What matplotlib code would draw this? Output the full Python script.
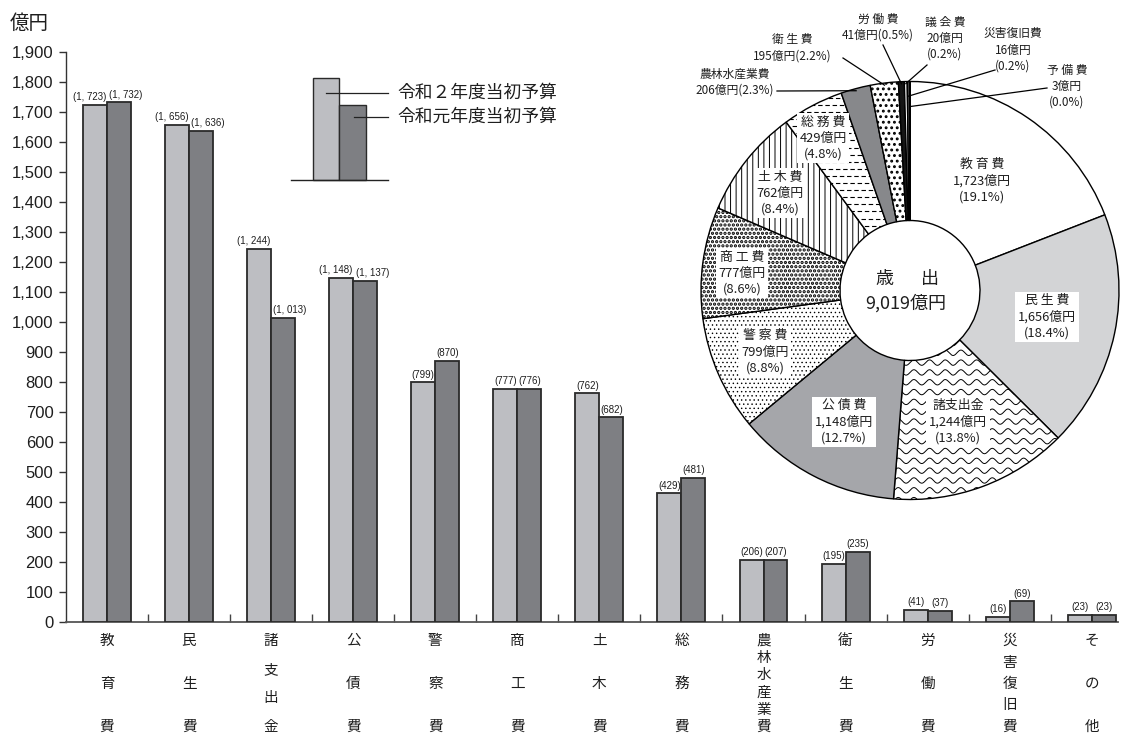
import matplotlib
matplotlib.use('Agg')
import matplotlib.pyplot as plt
import numpy as np
from matplotlib import font_manager
from matplotlib.transforms import blended_transform_factory

CJK = ['Noto Sans CJK JP', 'DejaVu Sans']
plt.rcParams['font.family'] = CJK

# ---------------- data ----------------
categories = ['教育費', '民生費', '諸支出金', '公債費', '警察費', '商工費', '土木費',
              '総務費', '農林水産業費', '衛生費', '労働費', '災害復旧費', 'その他']
budget_r2 = [1723, 1656, 1244, 1148, 799, 777, 762, 429, 206, 195, 41, 16, 23]
budget_r1 = [1732, 1636, 1013, 1137, 870, 776, 682, 481, 207, 235, 37, 69, 23]
yticks = list(range(0, 2000, 100))
ytick_labels = [f'{v:,}' for v in yticks]
series_names = ['令和２年度当初予算', '令和元年度当初予算']

pie_names = ['教 育 費', '民 生 費', '諸支出金', '公 債 費', '警 察 費', '商 工 費', '土 木 費',
             '総 務 費', '農林水産業費', '衛 生 費', '労 働 費', '議 会 費', '災害復旧費', '予 備 費']
pie_values = [1723, 1656, 1244, 1148, 799, 777, 762, 429, 206, 195, 41, 20, 16, 3]
pie_pcts = [19.1, 18.4, 13.8, 12.7, 8.8, 8.6, 8.4, 4.8, 2.3, 2.2, 0.5, 0.2, 0.2, 0.0]
pie_total = 9019

# ---------------- style ----------------
LIGHT = '#bdbec2'
DARK = '#7e7f83'
EDGE = '#2a2a2a'
TXT = '#1e1e1e'

def pick_narrow():
    for fam in ['Liberation Sans Narrow']:
        try:
            font_manager.findfont(font_manager.FontProperties(family=fam), fallback_to_default=False)
            return fam, 8
        except Exception:
            pass
    return 'Liberation Sans', 7

NARROW, NARROW_SIZE = pick_narrow()

W, H = 1132, 733
fig = plt.figure(figsize=(W / 100, H / 100), dpi=100)
fig.patch.set_facecolor('white')

def fbox(x0, y0, x1, y1):
    # pixel box (top-left origin) -> figure fraction rect
    return [x0 / W, 1 - y1 / H, (x1 - x0) / W, (y1 - y0) / H]

# ---------------- bar chart ----------------
ax = fig.add_axes(fbox(66, 52, 1118, 622))
x = np.arange(len(categories))
bw = 0.292
ax.bar(x - bw / 2, budget_r2, bw, color=LIGHT, edgecolor=EDGE, linewidth=1.3, zorder=3)
ax.bar(x + bw / 2, budget_r1, bw, color=DARK, edgecolor=EDGE, linewidth=1.3, zorder=3)
ax.set_xlim(-0.5, 12.32)
ax.set_ylim(0, 1900)
ax.spines['top'].set_visible(False)
ax.spines['right'].set_visible(False)
ax.spines['left'].set_color('#333333')
ax.spines['left'].set_linewidth(1.0)
ax.spines['bottom'].set_color('#555555')
ax.spines['bottom'].set_linewidth(1.3)
ax.set_yticks(yticks)
ax.set_yticklabels(ytick_labels, fontfamily='Liberation Sans', fontsize=12, color=TXT)
ax.tick_params(axis='y', direction='out', length=5, width=1, color='#333333', pad=4)
ax.set_xticks([])
ax.set_xticks(np.arange(0.5, len(categories) - 1, 1.0), minor=True)
ax.tick_params(axis='x', which='minor', direction='in', length=6, width=1, color='#444444')
ax.tick_params(axis='x', which='major', length=0)

def fmt(v):
    return '(' + f'{v:,}'.replace(',', ', ') + ')'

for xi, v in zip(x - bw / 2, budget_r2):
    dx = -5.5 if v >= 1000 else 0
    ax.annotate(fmt(v), (xi, v), xytext=(dx * 0.72, 2), textcoords='offset points', ha='center',
                va='bottom', fontfamily=NARROW, fontsize=NARROW_SIZE, color=TXT)
for xi, v in zip(x + bw / 2, budget_r1):
    dx = 7 if v >= 1000 else 0
    ax.annotate(fmt(v), (xi, v), xytext=(dx * 0.72, 2), textcoords='offset points', ha='center',
                va='bottom', fontfamily=NARROW, fontsize=NARROW_SIZE, color=TXT)

# vertical category labels
trans = blended_transform_factory(ax.transData, ax.transAxes)
y_top = (622 - 641) / 570
y_bot = (622 - 727) / 570
for xi, name in zip(x, categories):
    n = len(name)
    ys = np.linspace(y_top, y_bot, n)
    for ch, yy in zip(name, ys):
        ax.text(xi, yy, ch, transform=trans, ha='center', va='center', fontsize=10.5,
                color=TXT, clip_on=False)

fig.text(10 / W, 1 - 23 / H, '億円', ha='left', va='center', fontsize=14, color=TXT)

# ---------------- legend ----------------
lax = fig.add_axes(fbox(285, 70, 395, 185))
lax.set_xlim(285, 395)
lax.set_ylim(H - 185, H - 70)
lax.axis('off')
base = H - 180
lax.bar([326, 352.5], [102, 75], width=[26, 27], bottom=base, color=[LIGHT, DARK],
        edgecolor=EDGE, linewidth=1.0)
lax.plot([291, 388], [base, base], color='#222222', lw=1.0, clip_on=False)
lax.plot([326, 388], [H - 93, H - 93], color='#222222', lw=0.9, clip_on=False)
lax.plot([354, 388], [H - 117, H - 117], color='#222222', lw=0.9, clip_on=False)
lax.text(397, H - 93, series_names[0], ha='left', va='center', fontsize=12.8, color=TXT)
lax.text(397, H - 117, series_names[1], ha='left', va='center', fontsize=12.8, color=TXT)

# ---------------- pie chart ----------------
CX, CY, R = 910, 290.5, 209
pax = fig.add_axes(fbox(CX - R, CY - R, CX + R, CY + R))

def P(px, py):
    return ((px - CX) / R, (CY - py) / R)

pie_colors = ['white', '#d3d4d6', 'white', '#a5a6aa', 'white', 'white', 'white', 'white',
              '#87888b', 'white', '#151515', 'white', '#555555', '#9a9a9a']
pie_hatch = [None, None, None, None, '....', '....', '|||', None, None, '...', None, None, None, None]
pie_hlw = [1, 1, 1, 1, 0.5, 1.6, 0.7, 0.8, 1, 1.3, 1, 1, 1, 1]

wedges, _ = pax.pie(pie_values, startangle=90, counterclock=False, colors=pie_colors,
                    radius=1.0, wedgeprops=dict(width=1 - 70 / R, edgecolor='black', linewidth=1.0))
pax.set_xlim(-1, 1)
pax.set_ylim(-1, 1)
pax.set_aspect('equal')
pax.axis('off')
for w, h, hl in zip(wedges, pie_hatch, pie_hlw):
    if h:
        if hasattr(w, 'set_hatch_linewidth'):
            w.set_hatch_linewidth(hl)
        w.set_hatch(h)

# wavy pattern for 諸支出金
wave_x = np.linspace(-1.05, 1.05, 900)
for yy in np.arange(-1.05, 1.05, 0.047):
    ln, = pax.plot(wave_x, yy + 0.013 * np.sin(2 * np.pi * wave_x / 0.075), color='black', lw=0.7)
    ln.set_clip_path(wedges[2])

# dashed horizontal pattern for 総務費
for k, yy in enumerate(np.arange(-1.05, 1.05, 0.034)):
    ln, = pax.plot([-1.05, 1.05], [yy, yy], color='black', lw=0.8,
                   linestyle=(k % 2 * 3.0, (4, 2.5)))
    ln.set_clip_path(wedges[7])

pax.text(*P(884, 279), '歳', ha='center', va='center', fontsize=13, color=TXT)
pax.text(*P(930, 279), '出', ha='center', va='center', fontsize=13, color=TXT)
pax.text(*P(906, 303), f'{pie_total:,}億円', ha='center', va='center', fontsize=13, color=TXT)

inside_pos = [(982, 181), (1047, 317), (958, 422), (844, 422), (765, 352), (742, 273),
              (780, 193), (823, 138)]
inside_box = [False, True, True, True, True, True, True, True]
for i, (pos, boxed) in enumerate(zip(inside_pos, inside_box)):
    s = f'{pie_names[i]}\n{pie_values[i]:,}億円\n({pie_pcts[i]:.1f}%)'
    kw = dict(ha='center', va='center', fontsize=9.3, color=TXT, linespacing=1.3, zorder=5)
    if boxed:
        kw['bbox'] = dict(boxstyle='square,pad=0.2', facecolor='white', edgecolor='none')
    pax.text(*P(*pos), s, **kw)

# outside labels with leaders
outside_pos = {8: (735, 82), 9: (792, 48), 10: (878, 27), 11: (945, 38), 12: (1013, 50), 13: (1067, 86)}
leader_start = {8: (777, 91), 9: (843, 58), 10: (883, 45), 11: (927, 65), 12: (995, 70), 13: (1047, 88)}
leader_r = {8: 0.99, 9: 0.99, 10: 0.99, 11: 0.99, 12: 0.93, 13: 0.88}
two_line = {8, 9, 10}
cum = np.cumsum([0] + pie_values)
for i, pos in outside_pos.items():
    if i in two_line:
        s = f'{pie_names[i]}\n{pie_values[i]:,}億円({pie_pcts[i]:.1f}%)'
    else:
        s = f'{pie_names[i]}\n{pie_values[i]:,}億円\n({pie_pcts[i]:.1f}%)'
    pax.text(*P(*pos), s, ha='center', va='center', fontsize=8.5, color=TXT, linespacing=1.3)
    mid = (cum[i] + cum[i + 1]) / 2 / pie_total * 2 * np.pi
    ex, ey = leader_r[i] * np.sin(mid), leader_r[i] * np.cos(mid)
    sx, sy = P(*leader_start[i])
    pax.plot([sx, ex], [sy, ey], color='black', lw=0.9, clip_on=False, zorder=6)

fig.savefig('out.png', dpi=100, facecolor='white')
